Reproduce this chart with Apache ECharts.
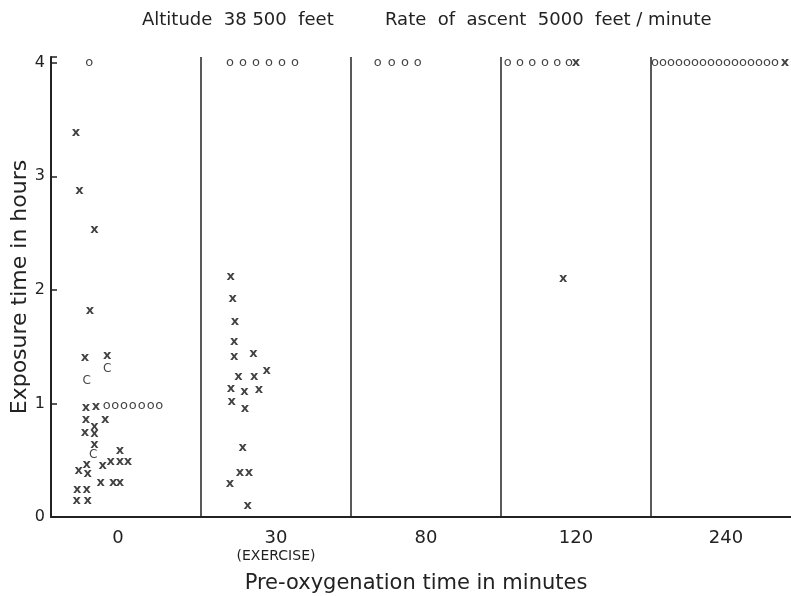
<!DOCTYPE html>
<html>
<head>
<meta charset="utf-8">
<script src="https://cdn.jsdelivr.net/npm/echarts@6/dist/echarts.min.js"></script>
<style>
  html, body { margin: 0; padding: 0; background: #fff; }
  #chart { width: 791px; height: 596px; }
</style>
</head>
<body>
<div id="chart"></div>
<script>
// pre-oxygenation groups (one panel each)
const panels = ['0', '30', '80', '120', '240'];
const yTicks = [0, 1, 2, 3, 4];

// each point: [panel index, horizontal place inside the panel (0..1), exposure hours]
// x = bends
const bends = [
  [0, 0.167, 3.38], [0, 0.189, 2.87], [0, 0.289, 2.53], [0, 0.26, 1.82],
  [0, 0.227, 1.40], [0, 0.375, 1.42], [0, 0.233, 0.96], [0, 0.30, 0.97],
  [0, 0.233, 0.86], [0, 0.362, 0.86], [0, 0.289, 0.80], [0, 0.227, 0.74],
  [0, 0.289, 0.73], [0, 0.289, 0.64], [0, 0.46, 0.58], [0, 0.238, 0.46],
  [0, 0.185, 0.41], [0, 0.245, 0.38], [0, 0.345, 0.45], [0, 0.398, 0.49],
  [0, 0.46, 0.49], [0, 0.513, 0.49], [0, 0.331, 0.30], [0, 0.415, 0.30],
  [0, 0.46, 0.30], [0, 0.175, 0.24], [0, 0.238, 0.24], [0, 0.171, 0.14],
  [0, 0.245, 0.14],
  [1, 0.198, 2.12], [1, 0.211, 1.92], [1, 0.227, 1.72], [1, 0.222, 1.54],
  [1, 0.222, 1.41], [1, 0.349, 1.44], [1, 0.249, 1.24], [1, 0.355, 1.24],
  [1, 0.438, 1.29], [1, 0.20, 1.13], [1, 0.205, 1.02], [1, 0.289, 1.10],
  [1, 0.387, 1.12], [1, 0.293, 0.95], [1, 0.278, 0.61], [1, 0.26, 0.39],
  [1, 0.32, 0.39], [1, 0.193, 0.29], [1, 0.311, 0.10],
  [3, 0.415, 2.10], [3, 0.50, 4.0],
  [4, 0.893, 4.0]
];

// C = chokes
const chokes = [
  [0, 0.375, 1.30], [0, 0.238, 1.20], [0, 0.282, 0.55]
];

// o = no symptoms
const noSymptoms = [
  [0, 0.255, 4.0],
  [0, 0.371, 0.98], [0, 0.429, 0.98], [0, 0.487, 0.98], [0, 0.545, 0.98],
  [0, 0.605, 0.98], [0, 0.665, 0.98], [0, 0.722, 0.98],
  [1, 0.193, 4.0], [1, 0.28, 4.0], [1, 0.367, 4.0], [1, 0.453, 4.0],
  [1, 0.54, 4.0], [1, 0.627, 4.0],
  [2, 0.178, 4.0], [2, 0.271, 4.0], [2, 0.36, 4.0], [2, 0.445, 4.0],
  [3, 0.045, 4.0], [3, 0.127, 4.0], [3, 0.209, 4.0], [3, 0.293, 4.0],
  [3, 0.375, 4.0], [3, 0.453, 4.0],
  [4, 0.027, 4.0], [4, 0.08, 4.0], [4, 0.133, 4.0], [4, 0.187, 4.0],
  [4, 0.24, 4.0], [4, 0.293, 4.0], [4, 0.347, 4.0], [4, 0.40, 4.0],
  [4, 0.453, 4.0], [4, 0.507, 4.0], [4, 0.56, 4.0], [4, 0.613, 4.0],
  [4, 0.667, 4.0], [4, 0.72, 4.0], [4, 0.773, 4.0], [4, 0.827, 4.0]
];

const font = 'DejaVu Sans';
const ink = '#222';

function toXY(list) {
  return list.map(function (p) { return [p[0] + p[1], p[2]]; });
}

function glyphSeries(name, list, glyph, size, weight) {
  return {
    name: name,
    type: 'scatter',
    xAxisIndex: 1,
    data: toXY(list),
    symbol: 'circle',
    symbolSize: 1,
    itemStyle: { color: 'rgba(0,0,0,0)' },
    silent: true,
    label: {
      show: true,
      position: 'inside',
      formatter: glyph,
      fontFamily: font,
      fontSize: size,
      fontWeight: weight,
      color: '#111'
    }
  };
}

let myChart = echarts.init(document.getElementById('chart'));
let option = {
  backgroundColor: '#fff',
  animation: false,
  title: [
    {
      text: 'Altitude  38 500  feet',
      left: 142, top: 11, padding: 0,
      textStyle: { fontFamily: font, fontSize: 18, fontWeight: 'normal', color: ink }
    },
    {
      text: 'Rate  of  ascent  5000  feet / minute',
      left: 385, top: 11, padding: 0,
      textStyle: { fontFamily: font, fontSize: 18, fontWeight: 'normal', color: ink }
    }
  ],
  grid: {
    left: 51, right: -10, top: 57, bottom: 79,
    outerBoundsMode: 'none'
  },
  xAxis: [
    {
      type: 'category',
      data: panels,
      boundaryGap: true,
      axisLine: { lineStyle: { color: ink, width: 2 } },
      axisTick: { show: false },
      splitLine: { show: true, interval: 0, lineStyle: { color: ink, width: 1.5, type: 'solid' } },
      axisLabel: {
        interval: 0,
        margin: 11,
        formatter: function (v) {
          if (v === '30') return '{a|30}\n{b|(EXERCISE)}';
          if (v === '0') return '{z|0}';
          return '{a|' + v + '}';
        },
        rich: {
          a: { fontFamily: font, fontSize: 18, color: ink, lineHeight: 20 },
          z: { fontFamily: font, fontSize: 18, color: ink, lineHeight: 20, padding: [0, 16, 0, 0] },
          b: { fontFamily: font, fontSize: 14, color: ink, lineHeight: 17 }
        }
      },
      name: 'Pre-oxygenation time in minutes',
      nameLocation: 'middle',
      nameGap: 56,
      nameMoveOverlap: false,
      nameTextStyle: { fontFamily: font, fontSize: 21, color: ink, padding: [0, 20, 0, 0] }
    },
    {
      type: 'value',
      min: 0,
      max: panels.length,
      show: false
    }
  ],
  yAxis: {
    type: 'value',
    min: 0,
    max: 4.05,
    interval: 1,
    axisLine: { show: true, lineStyle: { color: ink, width: 2 } },
    axisTick: { show: true, inside: true, length: 6, lineStyle: { color: ink, width: 1.5 } },
    splitLine: { show: false },
    axisLabel: {
      margin: 6,
      fontFamily: font,
      fontSize: 16,
      color: ink,
      formatter: function (v) { return yTicks.indexOf(v) >= 0 ? String(v) : ''; }
    },
    name: 'Exposure time in hours',
    nameLocation: 'middle',
    nameGap: 20,
    nameMoveOverlap: false,
    nameTextStyle: { fontFamily: font, fontSize: 22, color: ink }
  },
  series: [
    glyphSeries('Bends', bends, 'x', 13, 'bold'),
    glyphSeries('Chokes', chokes, 'C', 12, 'normal'),
    glyphSeries('No symptoms', noSymptoms, 'o', 13, 'normal')
  ]
};
myChart.setOption(option);
</script>
</body>
</html>
